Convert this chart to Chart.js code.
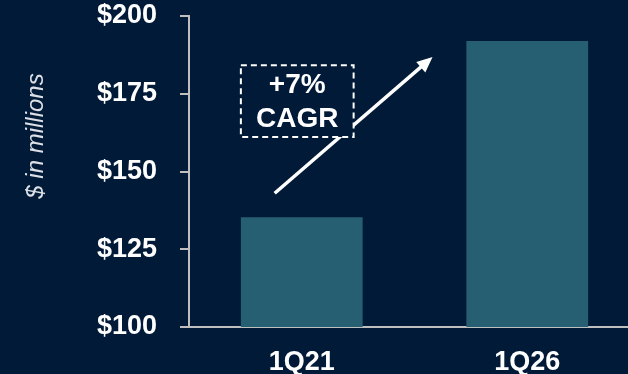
<!DOCTYPE html>
<html>
<head>
<meta charset="utf-8">
<script src="https://cdn.jsdelivr.net/npm/chart.js@4.4.1/dist/chart.umd.min.js"></script>
<style>
  html, body { margin: 0; padding: 0; background: #011a38; overflow: hidden; }
  #wrap { width: 640px; height: 374px; }
</style>
</head>
<body>
<div id="wrap"><canvas id="revChart" width="640" height="374"></canvas></div>
<script>
// chart data
const periods = ['1Q21', '1Q26'];
const revenue = [135.3, 192];
const yTicks = [100, 125, 150, 175, 200];
const cagrLines = ['+7%', 'CAGR'];
const yTitle = '$ in millions';

const bg = '#011a38';
const barColor = '#265f72';
const axisColor = '#bfbfbf';
const FONT = "'Liberation Sans', Arial, sans-serif";

// draws the y title, the growth arrow and the dashed CAGR box
const annotations = {
  id: 'annotations',
  afterDraw(chart) {
    const ctx = chart.ctx;
    const x = chart.scales.x, y = chart.scales.y;
    const area = chart.chartArea;
    ctx.save();

    // y axis title
    ctx.translate(36, area.top + 120);
    ctx.rotate(-Math.PI / 2);
    ctx.fillStyle = '#dde1e7';
    ctx.font = 'italic 24px ' + FONT;
    ctx.textAlign = 'center';
    ctx.textBaseline = 'middle';
    ctx.fillText(yTitle, 0, 0);
    ctx.setTransform(1, 0, 0, 1, 0, 0);

    // arrow
    const x0 = x.getPixelForValue(-0.12), y0 = y.getPixelForValue(143);
    const x1 = x.getPixelForValue(0.58), y1 = y.getPixelForValue(186.8);
    const ang = Math.atan2(y1 - y0, x1 - x0);
    const head = 17;
    ctx.strokeStyle = '#ffffff';
    ctx.fillStyle = '#ffffff';
    ctx.lineWidth = 3.5;
    ctx.beginPath();
    ctx.moveTo(x0, y0);
    ctx.lineTo(x1 - Math.cos(ang) * head * 0.8, y1 - Math.sin(ang) * head * 0.8);
    ctx.stroke();
    ctx.beginPath();
    ctx.moveTo(x1, y1);
    ctx.lineTo(x1 - head * Math.cos(ang - 0.42), y1 - head * Math.sin(ang - 0.42));
    ctx.lineTo(x1 - head * Math.cos(ang + 0.42), y1 - head * Math.sin(ang + 0.42));
    ctx.closePath();
    ctx.fill();

    // dashed box
    const bx0 = x.getPixelForValue(-0.27), bx1 = x.getPixelForValue(0.23);
    const by0 = y.getPixelForValue(184.2), by1 = y.getPixelForValue(161.1);
    ctx.fillStyle = bg;
    ctx.fillRect(bx0, by0, bx1 - bx0, by1 - by0);
    ctx.setLineDash([6, 4]);
    ctx.lineWidth = 2;
    ctx.strokeStyle = '#ffffff';
    ctx.strokeRect(bx0, by0, bx1 - bx0, by1 - by0);
    ctx.setLineDash([]);
    ctx.fillStyle = '#ffffff';
    ctx.font = 'bold 28px ' + FONT;
    ctx.textAlign = 'center';
    ctx.textBaseline = 'middle';
    const cx = (bx0 + bx1) / 2;
    ctx.fillText(cagrLines[0], cx, by0 + 20);
    ctx.fillText(cagrLines[1], cx, by0 + 54);
    ctx.restore();
  }
};

new Chart(document.getElementById('revChart').getContext('2d'), {
  type: 'bar',
  data: {
    labels: periods,
    datasets: [{
      data: revenue,
      backgroundColor: barColor,
      barPercentage: 0.54,
      categoryPercentage: 1.0
    }]
  },
  options: {
    responsive: false,
    animation: false,
    layout: { padding: { top: 16, left: 0, right: 0, bottom: 0 } },
    plugins: {
      legend: { display: false },
      tooltip: { enabled: false }
    },
    scales: {
      x: {
        grid: { display: false, drawTicks: false },
        border: { display: true, color: axisColor, width: 2 },
        afterFit(axis) { axis.height = 47; },
        ticks: {
          color: '#ffffff',
          padding: 19,
          font: { family: FONT, size: 27, weight: 'bold' }
        }
      },
      y: {
        min: 100,
        max: 200,
        afterBuildTicks(axis) { axis.ticks = yTicks.map(v => ({ value: v })); },
        afterFit(axis) { axis.width = 189; axis.paddingTop = 0; axis.paddingBottom = 0; },
        grid: { drawOnChartArea: false, drawTicks: true, tickLength: 9, color: axisColor, lineWidth: 2 },
        border: { display: true, color: axisColor, width: 2 },
        ticks: {
          color: '#ffffff',
          padding: 23,
          font: { family: FONT, size: 27, weight: 'bold' },
          callback: v => '$' + v
        }
      }
    }
  },
  plugins: [annotations]
});
</script>
</body>
</html>
